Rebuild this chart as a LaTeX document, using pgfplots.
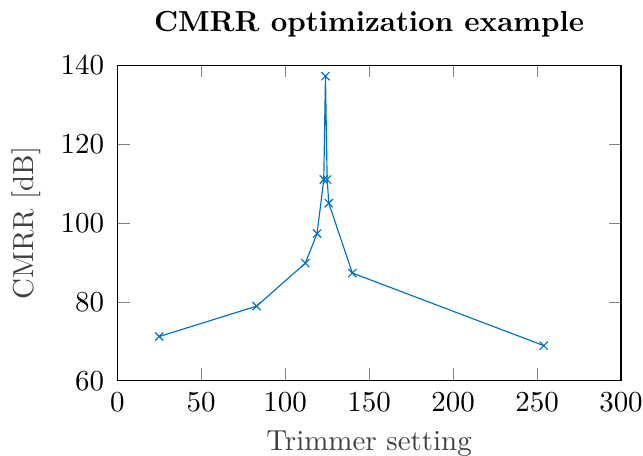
\documentclass[border=0pt]{standalone}
\usepackage{pgfplots}
\pgfplotsset{compat=1.18}
\definecolor{mblue}{RGB}{0,114,189}
\begin{document}
\begin{tikzpicture}
\begin{axis}[
  scale only axis,
  width=174pt, height=109pt,
  xmin=0, xmax=300, ymin=60, ymax=140,
  xtick={0,50,...,300}, ytick={60,80,...,140},
  title={\bfseries CMRR optimization example},
  xlabel={Trimmer setting}, ylabel={CMRR [dB]},
  xlabel style={color=black!75},
  ylabel style={color=black!75},
  yticklabel style={xshift=-1pt},
  xticklabel style={yshift=-0.5pt},
  tick align=inside,
]
\addplot[color=mblue, mark=x, mark options={solid}] coordinates {
(25,71.2) (83,78.9) (112,89.8) (119,97.3) (123,111) (124,137.2) (125,111) (126,105) (140,87.3) (254,68.9)
};
\end{axis}
\pgfresetboundingbox
\path ([xshift=-40.5pt,yshift=-26pt]current axis.south west) rectangle ([xshift=7.6pt,yshift=22.5pt]current axis.north east);
\end{tikzpicture}
\end{document}
